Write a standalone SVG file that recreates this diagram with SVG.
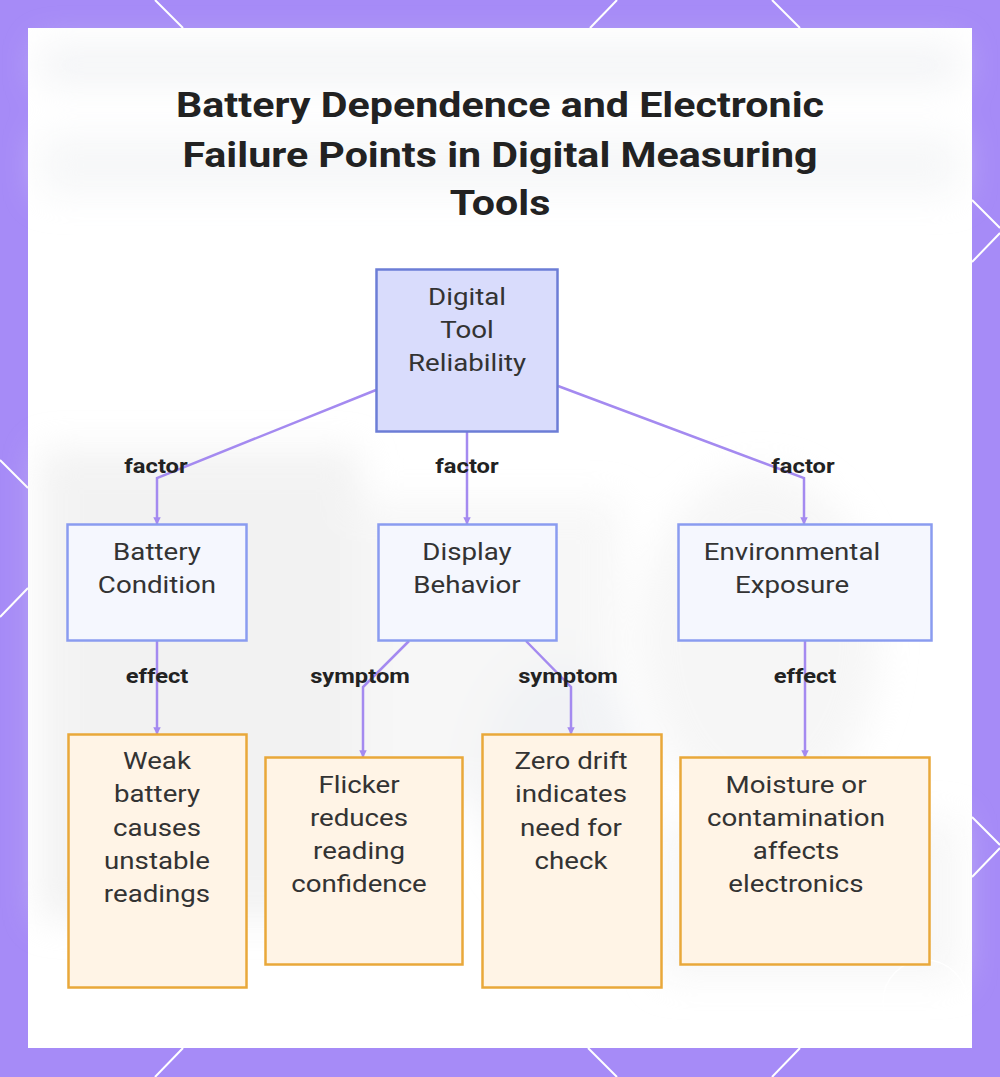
<svg xmlns="http://www.w3.org/2000/svg" width="1000" height="1077" viewBox="0 0 1000 1077">
  <defs>
    <style>
      .title { font-family: Roboto, "Liberation Sans", sans-serif; font-weight: 700; font-size: 35.5px; fill: #222222; text-anchor: middle; }
      .ntext { font-family: Roboto, "Liberation Sans", sans-serif; font-size: 24.5px; fill: #333333; text-anchor: middle; }
      .elabel { font-family: Roboto, "Liberation Sans", sans-serif; font-weight: 700; font-size: 21px; fill: #222222; text-anchor: middle; }
      .root { fill: #d9dcfc; stroke: #6c7dd6; stroke-width: 2.5; }
      .mid { fill: #f5f7fe; stroke: #8a9cf0; stroke-width: 2.5; }
      .leaf { fill: #fff4e6; stroke: #e9a83a; stroke-width: 2.5; }
      .edge { fill: none; stroke: #a48af0; stroke-width: 2.5; marker-end: url(#arr); }
      .deco { stroke: #ffffff; stroke-width: 2; fill: none; }
    </style>
    <marker id="arr" viewBox="0 0 10 10" refX="9" refY="5" markerWidth="3" markerHeight="3" orient="auto">
      <path d="M0,0 L10,5 L0,10 z" fill="#a48af0"/>
    </marker>
    <filter id="blur" x="-20%" y="-20%" width="140%" height="140%">
      <feGaussianBlur stdDeviation="18"/>
    </filter>
  </defs>

  <!-- frame -->
  <rect x="0" y="0" width="1000" height="1077" fill="#a68bf7"/>
  <g class="deco">
    <path d="M155,0 L183,28"/>
    <path d="M617,0 L590,28"/>
    <path d="M772,0 L800,28"/>
    <path d="M972,200 L1000,228 M1000,233 L972,262"/>
    <path d="M972,817 L1000,845 M1000,848 L972,877"/>
    <path d="M0,460 L28,488 M28,588 L0,617"/>
    <path d="M183,1048 L155,1077"/>
    <path d="M588,1048 L617,1077"/>
    <path d="M800,1048 L772,1077"/>
  </g>
  <rect x="28" y="28" width="944" height="1020" fill="#ffffff"/>

  <!-- faint background -->
  <g filter="url(#blur)" opacity="0.5">
    <rect x="40" y="45" width="920" height="40" fill="#e8eaee"/>
    <rect x="40" y="135" width="920" height="60" fill="#eef0f2"/>
    <rect x="40" y="450" width="320" height="470" fill="#e6e6e6"/>
    <rect x="360" y="500" width="260" height="300" fill="#f0f0f0"/>
    <ellipse cx="560" cy="780" rx="80" ry="120" fill="#e4e7ec"/>
    <ellipse cx="760" cy="640" rx="120" ry="170" fill="#eeeeee"/>
    <rect x="660" y="820" width="300" height="160" fill="#f0f0f0"/>
  </g>
  <circle cx="925" cy="1002" r="42" fill="none" stroke="#ffffff" stroke-width="1.5" opacity="0.9"/>

  <!-- title -->
  <text class="title" transform="translate(500 0) scale(1.16 1)" x="0" y="117">Battery Dependence and Electronic</text>
  <text class="title" transform="translate(500 0) scale(1.16 1)" x="0" y="167">Failure Points in Digital Measuring</text>
  <text class="title" transform="translate(500 0) scale(1.16 1)" x="0" y="215">Tools</text>

  <!-- connectors -->
  <g id="connectors">
    <path class="edge" d="M376,390 L157,478 L157,524"/>
    <path class="edge" d="M467,432 L467,524"/>
    <path class="edge" d="M558,386 L804,478 L804,524"/>
    <path class="edge" d="M157,641 L157,734"/>
    <path class="edge" d="M409,641 L363,687 L363,757"/>
    <path class="edge" d="M526,641 L571,687 L571,734"/>
    <path class="edge" d="M805,641 L805,757"/>
    <text class="elabel" transform="translate(156 0) scale(1.13 1)" x="0" y="473">factor</text>
    <text class="elabel" transform="translate(467 0) scale(1.13 1)" x="0" y="473">factor</text>
    <text class="elabel" transform="translate(803 0) scale(1.13 1)" x="0" y="473">factor</text>
    <text class="elabel" transform="translate(157 0) scale(1.13 1)" x="0" y="683">effect</text>
    <text class="elabel" transform="translate(360 0) scale(1.13 1)" x="0" y="683">symptom</text>
    <text class="elabel" transform="translate(568 0) scale(1.13 1)" x="0" y="683">symptom</text>
    <text class="elabel" transform="translate(805 0) scale(1.13 1)" x="0" y="683">effect</text>
  </g>

  <!-- nodes -->
  <g id="root">
    <rect class="root" x="376.5" y="269.5" width="181" height="162"/>
    <g transform="translate(467 0) scale(1.13 1)">
      <text class="ntext" x="0" y="305">Digital</text>
      <text class="ntext" x="0" y="338">Tool</text>
      <text class="ntext" x="0" y="371">Reliability</text>
    </g>
  </g>
  <g id="battery">
    <rect class="mid" x="67.5" y="524.5" width="179" height="116"/>
    <g transform="translate(157 0) scale(1.13 1)">
      <text class="ntext" x="0" y="560">Battery</text>
      <text class="ntext" x="0" y="593">Condition</text>
    </g>
  </g>
  <g id="display">
    <rect class="mid" x="378.5" y="524.5" width="178" height="116"/>
    <g transform="translate(467 0) scale(1.13 1)">
      <text class="ntext" x="0" y="560">Display</text>
      <text class="ntext" x="0" y="593">Behavior</text>
    </g>
  </g>
  <g id="environment">
    <rect class="mid" x="678.5" y="524.5" width="253" height="116"/>
    <g transform="translate(792 0) scale(1.13 1)">
      <text class="ntext" x="0" y="560">Environmental</text>
      <text class="ntext" x="0" y="593">Exposure</text>
    </g>
  </g>
  <g id="weak">
    <rect class="leaf" x="68.5" y="734.5" width="178" height="253"/>
    <g transform="translate(157 0) scale(1.13 1)">
      <text class="ntext" x="0" y="769">Weak</text>
      <text class="ntext" x="0" y="802">battery</text>
      <text class="ntext" x="0" y="836">causes</text>
      <text class="ntext" x="0" y="869">unstable</text>
      <text class="ntext" x="0" y="902">readings</text>
    </g>
  </g>
  <g id="flicker">
    <rect class="leaf" x="265.5" y="757.5" width="197" height="207"/>
    <g transform="translate(359 0) scale(1.13 1)">
      <text class="ntext" x="0" y="793">Flicker</text>
      <text class="ntext" x="0" y="826">reduces</text>
      <text class="ntext" x="0" y="859">reading</text>
      <text class="ntext" x="0" y="892">confidence</text>
    </g>
  </g>
  <g id="zerodrift">
    <rect class="leaf" x="482.5" y="734.5" width="179" height="253"/>
    <g transform="translate(571 0) scale(1.13 1)">
      <text class="ntext" x="0" y="769">Zero drift</text>
      <text class="ntext" x="0" y="802">indicates</text>
      <text class="ntext" x="0" y="836">need for</text>
      <text class="ntext" x="0" y="869">check</text>
    </g>
  </g>
  <g id="moisture">
    <rect class="leaf" x="680.5" y="757.5" width="249" height="207"/>
    <g transform="translate(796 0) scale(1.13 1)">
      <text class="ntext" x="0" y="793">Moisture or</text>
      <text class="ntext" x="0" y="826">contamination</text>
      <text class="ntext" x="0" y="859">affects</text>
      <text class="ntext" x="0" y="892">electronics</text>
    </g>
  </g>
</svg>
